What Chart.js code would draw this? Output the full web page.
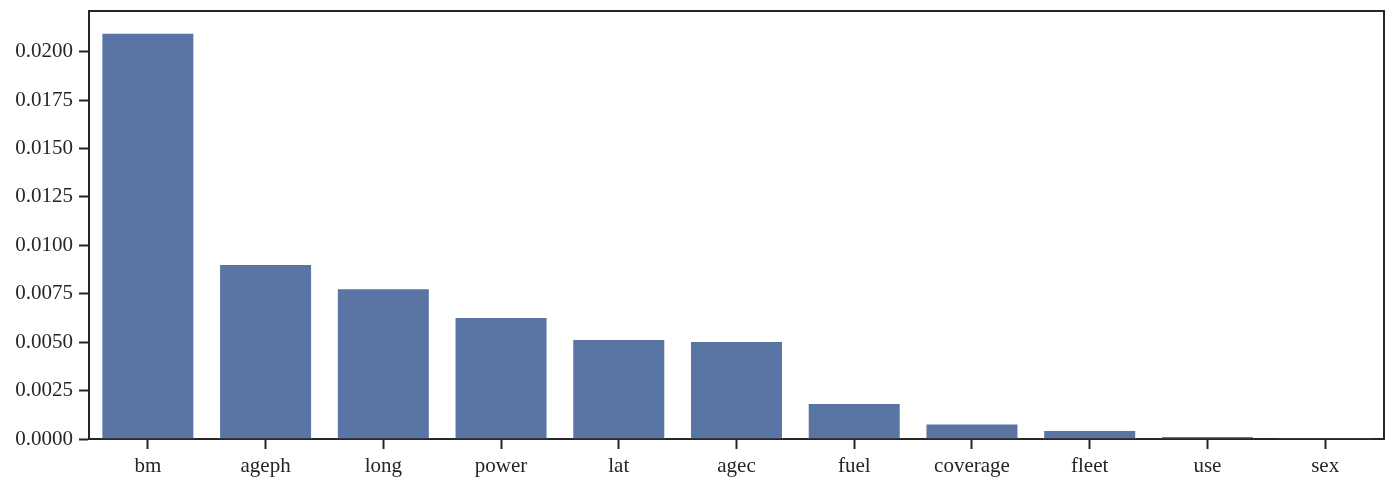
<!DOCTYPE html>
<html>
<head>
<meta charset="utf-8">
<script src="https://cdn.jsdelivr.net/npm/chart.js@4/dist/chart.umd.min.js"></script>
<style>
  html, body { margin: 0; padding: 0; background: #fff; }
  #wrap { width: 1386px; height: 480px; }
</style>
</head>
<body>
<div id="wrap"><canvas id="chart" width="1386" height="480"></canvas></div>
<script>
const features = ['bm', 'ageph', 'long', 'power', 'lat', 'agec', 'fuel', 'coverage', 'fleet', 'use', 'sex'];
const importance = [0.02098, 0.00903, 0.00779, 0.00630, 0.00516, 0.00506, 0.00186, 0.00080, 0.00046, 0.00016, 0.00009];
const yTicks = [0, 0.0025, 0.005, 0.0075, 0.01, 0.0125, 0.015, 0.0175, 0.02];

const axisColor = '#262626';
const font = { family: "'Liberation Serif', 'DejaVu Serif', serif", size: 21 };

// top and right spines
const frame = {
  id: 'frame',
  afterDraw(chart) {
    const { ctx, chartArea: a } = chart;
    ctx.save();
    ctx.strokeStyle = axisColor;
    ctx.lineWidth = 2;
    ctx.beginPath();
    ctx.moveTo(a.left, a.bottom);
    ctx.lineTo(a.left, a.top);
    ctx.lineTo(a.right, a.top);
    ctx.lineTo(a.right, a.bottom);
    ctx.stroke();
    ctx.restore();
  }
};

new Chart(document.getElementById('chart'), {
  type: 'bar',
  data: {
    labels: features,
    datasets: [{
      data: importance,
      backgroundColor: '#5975a4',
      borderColor: 'rgba(255,255,255,0.6)',
      borderWidth: 1,
      categoryPercentage: 1,
      barPercentage: 0.79
    }]
  },
  options: {
    responsive: false,
    animation: false,
    layout: { padding: { left: 0, right: 2, top: 11, bottom: 0 } },
    plugins: { legend: { display: false }, tooltip: { enabled: false } },
    scales: {
      x: {
        grid: { display: true, offset: false, drawOnChartArea: false, tickLength: 10, tickWidth: 2, tickColor: axisColor },
        border: { display: true, color: axisColor, width: 2 },
        ticks: { color: axisColor, font: font, padding: 5, maxRotation: 0 },
        afterFit(scale) { scale.height = 41; }
      },
      y: {
        min: 0,
        max: 0.0221,
        grid: { display: true, drawOnChartArea: false, tickLength: 10, tickWidth: 2, tickColor: axisColor },
        border: { display: true, color: axisColor, width: 2 },
        ticks: {
          color: axisColor, font: font, padding: 6,
          callback: v => v.toFixed(4)
        },
        afterBuildTicks(scale) { scale.ticks = yTicks.map(v => ({ value: v })); },
        afterFit(scale) { scale.width = 89; scale.paddingTop = 0; }
      }
    }
  },
  plugins: [frame]
});
</script>
</body>
</html>
